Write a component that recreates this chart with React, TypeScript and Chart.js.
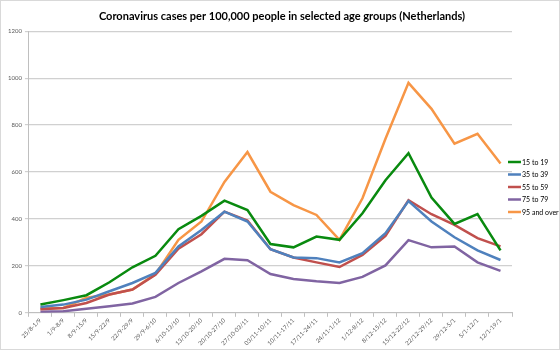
import React, { useEffect, useRef } from "react";
import { Chart, registerables } from "chart.js";

Chart.register(...registerables);

const categories = [
  "25/8-1/9", "1/9-8/9", "8/9-15/9", "15/9-22/9", "22/9-29/9", "29/9-6/10",
  "6/10-13/10", "13/10-20/10", "20/10-27/10", "27/10-03/11", "03/11-10/11",
  "10/11-17/11", "17/11-24/11", "24/11-1/12", "1/12-8/12", "8/12-15/12",
  "15/12-22/12", "22/12-29/12", "29/12-5/1", "5/1-12/1", "12/1-19/1",
];

const age15to19 = [35, 54, 75, 130, 194, 243, 356, 413, 478, 438, 293, 279, 325, 311, 424, 565, 680, 491, 379, 421, 266];
const age35to39 = [25, 35, 56, 92, 127, 170, 283, 353, 431, 389, 271, 236, 233, 215, 254, 339, 476, 389, 322, 266, 225];
const age55to59 = [15, 21, 42, 78, 99, 162, 273, 335, 431, 393, 271, 236, 215, 195, 247, 328, 480, 420, 375, 318, 283];
const age75to79 = [4, 7, 17, 28, 40, 68, 127, 177, 230, 224, 165, 144, 134, 127, 153, 202, 310, 279, 283, 215, 179];
const age95plus = [18, 21, 64, 78, 99, 165, 311, 389, 558, 685, 516, 459, 417, 311, 488, 742, 980, 869, 721, 763, 636];

const seriesNames = ["15 to 19", "35 to 39", "55 to 59", "75 to 79", "95 and over"];
const seriesColors = ["#098a0f", "#4f81bd", "#c0504d", "#8064a2", "#f79646"];
const titleText = "Coronavirus cases per 100,000 people in selected age groups (Netherlands)";

const sideLegend = {
  id: "sideLegend",
  afterDraw(chart: any) {
    const ctx = chart.ctx;
    const area = chart.chartArea;
    const x0 = area.right - 4;
    const y0 = 161;
    const step = 12.5;
    ctx.save();
    ctx.font = "7px Lato";
    ctx.textBaseline = "middle";
    ctx.textAlign = "left";
    chart.data.datasets.forEach((ds: any, i: number) => {
      const y = y0 + i * step;
      ctx.strokeStyle = ds.borderColor;
      ctx.lineWidth = 2.5;
      ctx.beginPath();
      ctx.moveTo(x0, y);
      ctx.lineTo(x0 + 13, y);
      ctx.stroke();
      ctx.fillStyle = "#000";
      ctx.fillText(ds.label, x0 + 14, y + 0.5);
    });
    ctx.restore();
  },
};

export default function App() {
  const ref = useRef<HTMLCanvasElement>(null);
  useEffect(() => {
    document.body.style.margin = "0";
    const data = [age15to19, age35to39, age55to59, age75to79, age95plus];
    const chart = new Chart(ref.current!, {
      type: "line",
      data: {
        labels: categories,
        datasets: data.map((d, i) => ({
          label: seriesNames[i],
          data: d,
          borderColor: seriesColors[i],
          backgroundColor: seriesColors[i],
          borderWidth: 2.5,
          pointRadius: 0,
          tension: 0,
        })),
      },
      options: {
        responsive: false,
        animation: false,
        layout: { padding: { left: 4, right: 0, top: 0, bottom: 2 } },
        plugins: {
          title: {
            display: true,
            text: titleText,
            color: "#000",
            font: { family: "Lato", size: 11, weight: "bold" },
            padding: { top: 9, bottom: 8 },
          },
          legend: { display: false },
          tooltip: { enabled: false },
        },
        scales: {
          x: {
            offset: true,
            grid: {
              display: true,
              drawOnChartArea: false,
              drawTicks: true,
              tickLength: 4,
              color: "#bfbfbf",
              offset: true,
            },
            border: { color: "#bfbfbf", width: 1 },
            ticks: {
              color: "#595959",
              font: { family: "Lato", size: 6 },
              maxRotation: 45,
              minRotation: 45,
              autoSkip: false,
              padding: 0,
            },
          },
          y: {
            min: 0,
            max: 1200,
            grid: { color: "#d0d0d0", lineWidth: 1.2, tickLength: 4 },
            border: { color: "#bfbfbf", width: 1 },
            ticks: {
              stepSize: 200,
              color: "#595959",
              font: { family: "Lato", size: 6 },
              padding: 3,
              callback: (v: any) => String(v),
            },
          },
          spacer: {
            type: "linear",
            position: "right",
            display: true,
            grid: { display: false, drawTicks: false },
            border: { display: false },
            ticks: { display: false },
            afterFit: (scale: any) => {
              scale.width = 47;
            },
          },
        },
      },
      plugins: [sideLegend],
    });
    return () => chart.destroy();
  }, []);
  return (
    <div style={{ width: 558, height: 348, border: "1px solid #d9d9d9", background: "#fff" }}>
      <canvas ref={ref} width={558} height={348} />
    </div>
  );
}
